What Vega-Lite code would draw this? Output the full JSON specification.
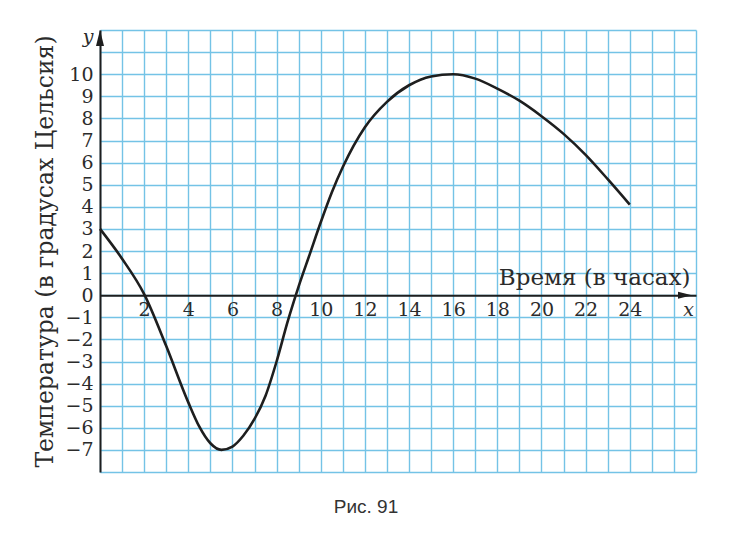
{
  "$schema": "https://vega.github.io/schema/vega-lite/v6.json",
  "width": 596,
  "height": 442,
  "autosize": "none",
  "padding": {"left": 100, "top": 30, "right": 36, "bottom": 62},
  "background": "white",
  "title": {"text": "Рис. 91", "orient": "bottom", "anchor": "middle", "font": "Liberation Sans", "fontSize": 19, "fontWeight": "normal", "color": "#333333", "offset": 16, "dx": -32},
  "config": {"view": {"stroke": null}},
  "layer": [
    {
      "data": {"values": [
        {"hour": 0, "temp": 3.0},
        {"hour": 1, "temp": 1.65},
        {"hour": 2, "temp": 0.05},
        {"hour": 3, "temp": -2.3},
        {"hour": 4, "temp": -4.85},
        {"hour": 4.5, "temp": -5.95},
        {"hour": 5, "temp": -6.7},
        {"hour": 5.5, "temp": -7.0},
        {"hour": 6, "temp": -6.85},
        {"hour": 6.5, "temp": -6.35},
        {"hour": 7, "temp": -5.6},
        {"hour": 7.5, "temp": -4.55},
        {"hour": 8, "temp": -3.0},
        {"hour": 8.5, "temp": -1.2},
        {"hour": 9, "temp": 0.4},
        {"hour": 9.5, "temp": 1.85},
        {"hour": 10, "temp": 3.3},
        {"hour": 10.5, "temp": 4.65},
        {"hour": 11, "temp": 5.8},
        {"hour": 12, "temp": 7.6},
        {"hour": 13, "temp": 8.75},
        {"hour": 14, "temp": 9.5},
        {"hour": 15, "temp": 9.9},
        {"hour": 16, "temp": 10.0},
        {"hour": 17, "temp": 9.8},
        {"hour": 18, "temp": 9.35},
        {"hour": 19, "temp": 8.8},
        {"hour": 20, "temp": 8.1},
        {"hour": 21, "temp": 7.3},
        {"hour": 22, "temp": 6.35},
        {"hour": 23, "temp": 5.25},
        {"hour": 24, "temp": 4.1}
      ]},
      "mark": {"type": "line", "interpolate": "monotone", "color": "#1e1e1e", "strokeWidth": 2.6},
      "encoding": {
        "x": {
          "field": "hour", "type": "quantitative",
          "scale": {"domain": [0, 27], "nice": false, "zero": false},
          "axis": {
            "values": [0,1,2,3,4,5,6,7,8,9,10,11,12,13,14,15,16,17,18,19,20,21,22,23,24,25,26,27],
            "tickCount": 60,
            "format": "d",
            "grid": true, "gridColor": "#74c3e6", "gridWidth": 1.4, "gridOpacity": 1,
            "ticks": false,
            "domain": true, "domainColor": "#1e1e1e", "domainWidth": 2,
            "offset": -176.8,
            "labelExpr": "datum.value == 27 ? 'x' : (datum.value > 0 && datum.value <= 24 && datum.value % 2 == 0 ? datum.label : '')",
            "labelFont": "DejaVu Serif", "labelFontSize": 19, "labelColor": "#2b2b2b",
            "labelFontStyle": {"condition": {"test": "datum.value == 27", "value": "italic"}, "value": "normal"},
            "labelOffset": {"condition": {"test": "datum.value == 27", "value": -8}, "value": 0},
            "labelPadding": 5, "labelFlush": false, "labelOverlap": false, "labelBound": false,
            "title": "Время (в часах)",
            "titleFont": "DejaVu Serif", "titleFontSize": 23, "titleFontWeight": "normal", "titleColor": "#2b2b2b",
            "titleX": 590, "titleY": -11, "titleAlign": "right", "titleBaseline": "alphabetic", "titleAngle": 0
          }
        },
        "y": {
          "field": "temp", "type": "quantitative",
          "scale": {"domain": [-8, 12], "nice": false, "zero": false},
          "axis": {
            "values": [-8,-7,-6,-5,-4,-3,-2,-1,0,1,2,3,4,5,6,7,8,9,10,11,12],
            "tickCount": 60,
            "format": "d",
            "grid": true, "gridColor": "#74c3e6", "gridWidth": 1.4, "gridOpacity": 1,
            "ticks": false,
            "domain": true, "domainColor": "#1e1e1e", "domainWidth": 2,
            "labelExpr": "datum.value == 12 ? 'y' : (datum.value >= -7 && datum.value <= 10 ? datum.label : '')",
            "labelFont": "DejaVu Serif", "labelFontSize": 19, "labelColor": "#2b2b2b",
            "labelFontStyle": {"condition": {"test": "datum.value == 12", "value": "italic"}, "value": "normal"},
            "labelOffset": {"condition": {"test": "datum.value == 12", "value": 6}, "value": 0},
            "labelPadding": 7, "labelFlush": false, "labelOverlap": false, "labelBound": false,
            "title": "Температура (в градусах Цельсия)",
            "titleFont": "DejaVu Serif", "titleFontSize": 23.5, "titleFontWeight": "normal", "titleColor": "#2b2b2b",
            "titleX": -55, "titleY": 221, "titleAngle": -90, "titleAlign": "center", "titleBaseline": "middle"
          }
        }
      }
    },
    {
      "data": {"values": [{"label": "y"}]},
      "mark": {"type": "point", "shape": "M0,-1L0.5,1L-0.5,1Z", "filled": true, "color": "#1e1e1e", "opacity": 1, "size": 256, "yOffset": 8},
      "encoding": {"x": {"datum": 0, "type": "quantitative"}, "y": {"datum": 12, "type": "quantitative"}}
    },
    {
      "data": {"values": [{"label": "x"}]},
      "mark": {"type": "point", "shape": "M1,0L-1,-0.5L-1,0.5Z", "filled": true, "color": "#1e1e1e", "opacity": 1, "size": 196, "xOffset": -11},
      "encoding": {"x": {"datum": 27, "type": "quantitative"}, "y": {"datum": 0, "type": "quantitative"}}
    }
  ]
}
